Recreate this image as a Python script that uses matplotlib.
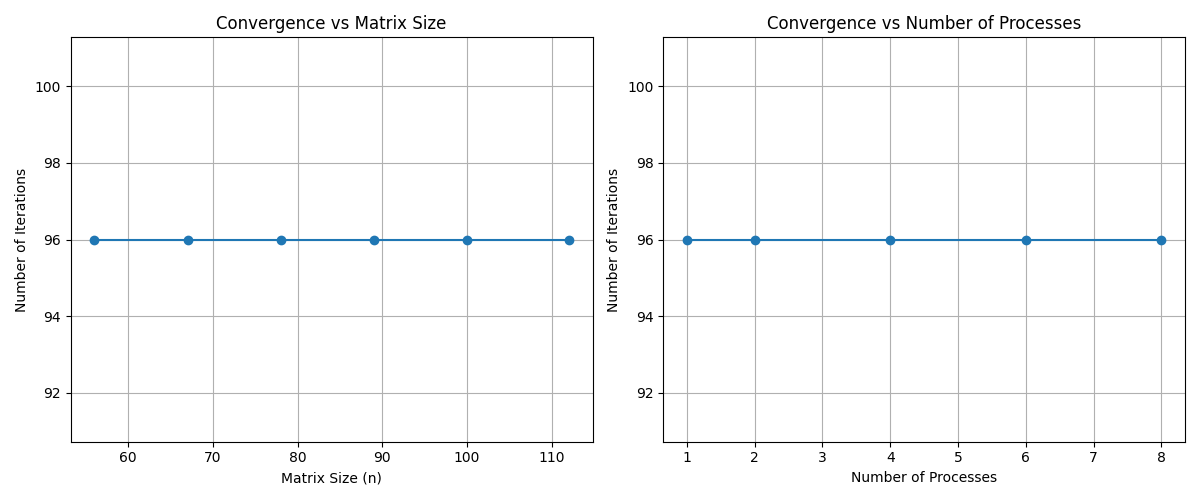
import matplotlib
matplotlib.use("Agg")
import matplotlib.pyplot as plt

matrix_sizes = [56, 67, 78, 89, 100, 112]
iters_by_size = [96, 96, 96, 96, 96, 96]
processes = [1, 2, 4, 6, 8]
iters_by_proc = [96, 96, 96, 96, 96]

fig, (ax1, ax2) = plt.subplots(1, 2, figsize=(12, 5), dpi=100)

ax1.plot(matrix_sizes, iters_by_size, marker='o')
ax1.set_title("Convergence vs Matrix Size")
ax1.set_xlabel("Matrix Size (n)")
ax1.set_ylabel("Number of Iterations")
ax1.grid(True)

ax2.plot(processes, iters_by_proc, marker='o')
ax2.set_title("Convergence vs Number of Processes")
ax2.set_xlabel("Number of Processes")
ax2.set_ylabel("Number of Iterations")
ax2.grid(True)

fig.tight_layout()
fig.savefig("out.png")
